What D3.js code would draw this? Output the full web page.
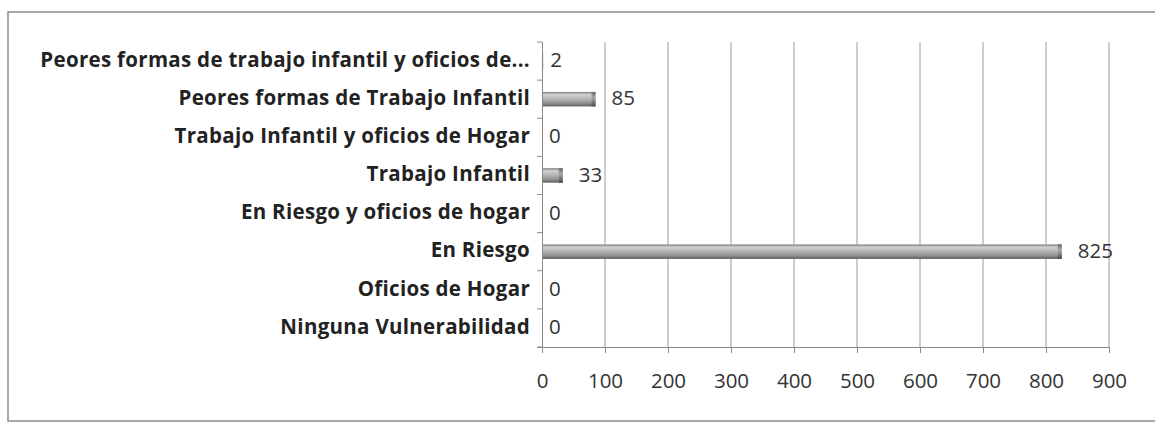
<!DOCTYPE html>
<html><head><meta charset="utf-8">
<script src="https://cdn.jsdelivr.net/npm/d3@7"></script>
<style>body{margin:0;background:#fff;} svg{display:block;}</style>
</head><body>
<svg id="c" width="1155" height="425"></svg>
<script>
const categories = [
  "Peores formas de trabajo infantil y oficios de...",
  "Peores formas de Trabajo Infantil",
  "Trabajo Infantil y oficios de Hogar",
  "Trabajo Infantil",
  "En Riesgo y oficios de hogar",
  "En Riesgo",
  "Oficios de Hogar",
  "Ninguna Vulnerabilidad"
];
const values = [2, 85, 0, 33, 0, 825, 0, 0];
const xTicks = [0, 100, 200, 300, 400, 500, 600, 700, 800, 900];

const svg = d3.select("#c");
const defs = svg.append("defs");
const g1 = defs.append("linearGradient").attr("id","bar").attr("x1",0).attr("y1",0).attr("x2",0).attr("y2",1);
[["0%","#7a7a7a"],["18%","#d0d0d0"],["40%","#bdbdbd"],["75%","#949494"],["100%","#5e5e5e"]]
  .forEach(([o,c])=>g1.append("stop").attr("offset",o).attr("stop-color",c));
const g2 = defs.append("linearGradient").attr("id","cap").attr("x1",0).attr("y1",0).attr("x2",0).attr("y2",1);
[["0%","#6a6a6a"],["40%","#a8a8a8"],["100%","#4a4a4a"]]
  .forEach(([o,c])=>g2.append("stop").attr("offset",o).attr("stop-color",c));

// frame
svg.append("rect").attr("x",8).attr("y",12).attr("width",1160).attr("height",409)
  .attr("fill","none").attr("stroke","#8c8c8c").attr("stroke-width",1.5);

const x = d3.scaleLinear().domain([0,900]).range([542,1109]);
const y = d3.scaleBand().domain(categories).range([42,347]).paddingInner(0.62).paddingOuter(0.31);
const yb = d3.scaleBand().domain(categories).range([42,347]);

// gridlines
svg.append("g").selectAll("line").data(xTicks.slice(1)).join("line")
  .attr("x1",d=>x(d)).attr("x2",d=>x(d)).attr("y1",42).attr("y2",347)
  .attr("stroke","#9a9a9a").attr("stroke-width",1);

// x axis
const xa = svg.append("g").attr("transform","translate(0,347)")
  .call(d3.axisBottom(x).tickValues(xTicks).tickSize(6).tickPadding(20).tickSizeOuter(0));
xa.select(".domain").attr("stroke","#8a8a8a").attr("d","M537,0.5H1109");
xa.selectAll(".tick line").attr("stroke","#8a8a8a");
xa.selectAll("text").attr("font-family","'Open Sans', sans-serif").attr("font-size",20.5).attr("fill","#333");

// y axis
const ya = svg.append("g").attr("transform","translate(542,0)")
  .call(d3.axisLeft(yb).tickSize(0).tickPadding(12));
ya.select(".domain").attr("stroke","#8a8a8a").attr("d","M0.5,42V347");
ya.selectAll("text").attr("font-family","'Open Sans', sans-serif").attr("font-weight",700)
  .attr("font-size",20.5).attr("letter-spacing","0.3px").attr("fill","#222").attr("dy","0.28em");
// boundary ticks
svg.append("g").selectAll("line").data(d3.range(categories.length+1)).join("line")
  .attr("x1",537).attr("x2",542).attr("y1",i=>42+i*yb.step()).attr("y2",i=>42+i*yb.step())
  .attr("stroke","#8a8a8a");

// bars
const bars = svg.append("g").selectAll("g").data(categories.map((c,i)=>({c,v:values[i]}))).join("g");
bars.filter(d=>d.v>0).append("rect")
  .attr("x",x(0)+1).attr("y",d=>y(d.c)).attr("width",d=>Math.max(0,x(d.v)-x(0)-1)).attr("height",y.bandwidth())
  .attr("fill","url(#bar)");
bars.filter(d=>d.v>3).append("rect")
  .attr("x",d=>x(d.v)-4).attr("y",d=>y(d.c)).attr("width",4).attr("height",y.bandwidth())
  .attr("fill","url(#cap)");

// value labels
bars.append("text")
  .attr("x",d=>x(d.v)+(d.v>3?16:7)).attr("y",d=>yb(d.c)+yb.bandwidth()/2)
  .attr("dy","0.3em")
  .attr("font-family","'Open Sans', sans-serif").attr("font-size",20.5).attr("fill","#333")
  .text(d=>d.v);
</script>
</body></html>
